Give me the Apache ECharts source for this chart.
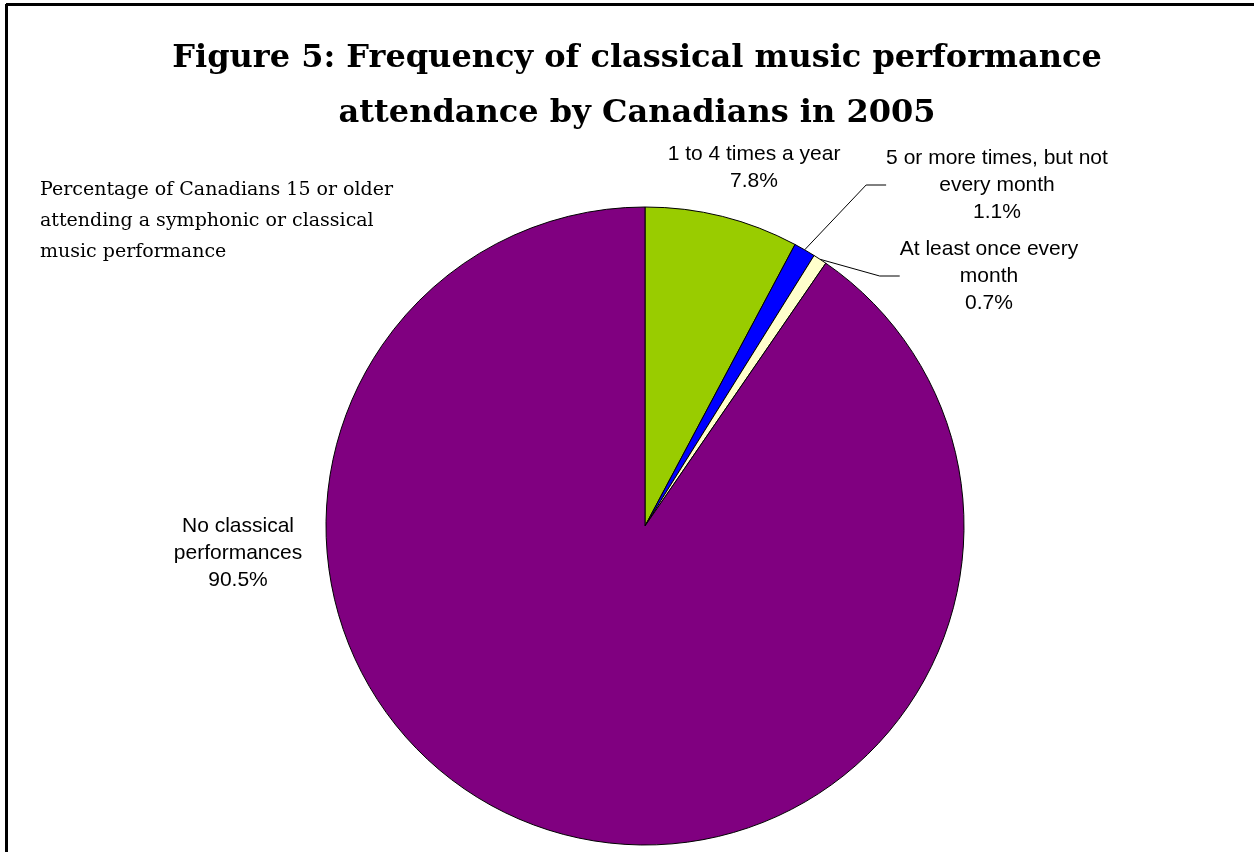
<!DOCTYPE html>
<html><head><meta charset="utf-8">
<script src="https://cdn.jsdelivr.net/npm/echarts@6/dist/echarts.min.js"></script>
<style>html,body{margin:0;padding:0;background:#fff}#c{width:1254px;height:852px}</style>
</head><body><div id="c"></div>
<script>
const categories = ["1 to 4 times a year", "5 or more times, but not\nevery month", "At least once every\nmonth", "No classical\nperformances"];
const values = [7.8, 1.1, 0.7, 90.5];
const colors = ["#99CC00", "#0000FF", "#FFFFCC", "#800080"];
const labelPos = [[754, 168], [997, 185], [989, 276], [238, 553]];
const showLine = [false, true, true, false];

const chart = echarts.init(document.getElementById('c'), null, {renderer: 'canvas'});
chart.setOption({
  backgroundColor: '#fff',
  animation: false,
  title: {
    text: 'Figure 5: Frequency of classical music performance\nattendance by Canadians in 2005',
    left: 632, top: 26, textAlign: 'center',
    textStyle: {fontFamily: 'DejaVu Serif', fontWeight: 'bold', fontSize: 32, lineHeight: 55, color: '#000'}
  },
  graphic: [
    {type: 'line', shape: {x1: 6, y1: 4.5, x2: 1254, y2: 4.5}, style: {stroke: '#000', lineWidth: 3}},
    {type: 'line', shape: {x1: 6.5, y1: 4, x2: 6.5, y2: 852}, style: {stroke: '#000', lineWidth: 3}},
    {type: 'text', left: 40, top: 175, style: {
      text: 'Percentage of Canadians 15 or older\nattending a symphonic or classical\nmusic performance',
      font: '19px "DejaVu Serif"', lineHeight: 31, fill: '#000'}}
  ],
  series: [{
    type: 'pie',
    center: [645, 526],
    radius: 319,
    startAngle: 90,
    clockwise: true,
    itemStyle: {borderColor: '#000', borderWidth: 1},
    label: {
      show: true,
      formatter: p => p.name + '\n' + p.value.toFixed(1) + '%',
      fontFamily: 'Liberation Sans', fontSize: 21, lineHeight: 27, color: '#000', align: 'center'
    },
    labelLine: {show: true, length: 20, length2: 20, lineStyle: {color: '#000', width: 1}},
    labelLayout: function (p) {
      const pos = labelPos[p.dataIndex];
      return {x: pos[0], y: pos[1], align: 'center', verticalAlign: 'middle'};
    },
    data: categories.map((c, i) => ({
      name: c, value: values[i],
      itemStyle: {color: colors[i]},
      labelLine: {show: showLine[i]}
    }))
  }]
});
</script></body></html>
